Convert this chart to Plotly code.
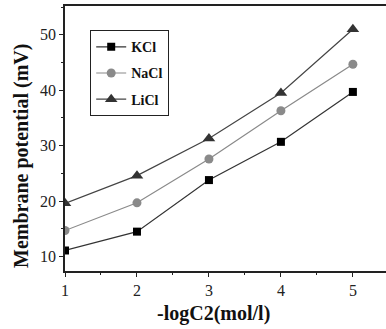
import plotly.graph_objects as go

x_vals = [1, 2, 3, 4, 5]
kcl = [11.1, 14.5, 23.8, 30.7, 39.7]
nacl = [14.7, 19.7, 27.6, 36.3, 44.7]
licl = [19.6, 24.6, 31.3, 39.5, 51.0]
x_ticks = [1, 2, 3, 4, 5]
y_ticks = [10, 20, 30, 40, 50]

fig = go.Figure()
fig.add_trace(go.Scatter(x=x_vals, y=kcl, name="KCl", mode="lines+markers", legendgroup="a",
                         line=dict(color="#333333", width=1.2),
                         marker=dict(symbol="square", size=8, color="#000000")))
fig.add_trace(go.Scatter(x=x_vals, y=nacl, name="NaCl", mode="lines+markers", legendgroup="b",
                         line=dict(color="#8a8a8a", width=1.2),
                         marker=dict(symbol="circle", size=9, color="#8a8a8a")))
fig.add_trace(go.Scatter(x=x_vals, y=licl, name="LiCl", mode="lines+markers", legendgroup="c",
                         line=dict(color="#444444", width=1.2),
                         marker=dict(symbol="triangle-up", size=11, color="#333333")))

font_fam = "Liberation Serif"
W, H = 386, 329
L, R, T, B = 65, 0, 6, 58
pw, ph = W - L - R, H - T - B

fig.update_layout(
    width=W, height=H,
    margin=dict(l=L, r=R, t=T, b=B),
    paper_bgcolor="white", plot_bgcolor="white",
    font=dict(family=font_fam, color="#222222"),
    showlegend=True,
    legend=dict(x=(90 - L) / pw, y=(H - B - 30) / ph, xanchor="left", yanchor="top",
                bordercolor="#222222", borderwidth=1.2, bgcolor="white",
                font=dict(family=font_fam, size=14, color="#111111", weight="bold"),
                itemwidth=30, tracegroupgap=5),
    xaxis=dict(range=[1, 5.46], tickvals=x_ticks, ticks="outside", ticklen=4,
               tickwidth=1.2, tickcolor="#222222",
               showline=True, linecolor="#222222", linewidth=1.5, mirror=True,
               showgrid=False, zeroline=False,
               tickfont=dict(family=font_fam, size=16, color="#222222"),
               minor=dict(dtick=0.5, tick0=1, ticks="outside", ticklen=2, tickcolor="#222222")),
    yaxis=dict(range=[7.4, 55.2], tickvals=y_ticks, ticks="outside", ticklen=4,
               tickwidth=1.2, tickcolor="#222222",
               showline=True, linecolor="#222222", linewidth=1.5, mirror=False,
               showgrid=False, zeroline=False,
               tickfont=dict(family=font_fam, size=16, color="#222222"),
               minor=dict(dtick=5, tick0=5, ticks="outside", ticklen=2, tickcolor="#222222")),
    annotations=[
        dict(text="-logC2(mol/l)", xref="paper", yref="paper",
             x=(213 - L) / pw, y=(H - B - 313) / ph, xanchor="center", yanchor="middle",
             showarrow=False,
             font=dict(family=font_fam, size=20, color="#111111", weight="bold")),
        dict(text="Membrane potential (mV)", xref="paper", yref="paper",
             x=(21 - L) / pw, y=(H - B - 156) / ph, xanchor="center", yanchor="middle",
             showarrow=False, textangle=-90,
             font=dict(family=font_fam, size=20, color="#111111", weight="bold")),
    ],
)

fig.write_html("out.html")
